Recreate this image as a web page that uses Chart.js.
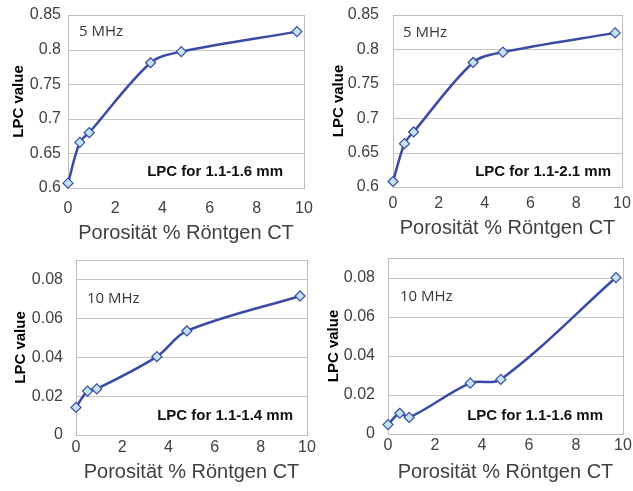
<!DOCTYPE html>
<html>
<head>
<meta charset="utf-8">
<script src="https://cdn.jsdelivr.net/npm/chart.js@4.4.1/dist/chart.umd.min.js"></script>
<style>
  html, body { margin: 0; padding: 0; background: #fff; }
  #wrap { position: relative; width: 633px; height: 491px; overflow: hidden; }
  .panel { position: absolute; }
</style>
</head>
<body>
<div id="wrap">
  <div class="panel" style="left:0;top:0;width:316px;height:245px"><canvas id="c1"></canvas></div>
  <div class="panel" style="left:316px;top:0;width:317px;height:245px"><canvas id="c2"></canvas></div>
  <div class="panel" style="left:0;top:245px;width:316px;height:246px"><canvas id="c3"></canvas></div>
  <div class="panel" style="left:316px;top:245px;width:317px;height:246px"><canvas id="c4"></canvas></div>
</div>
<script>
// porosity from X-ray CT (%)
const porosity = [0, 0.5, 0.9, 3.5, 4.8, 9.7];

// LPC values per frequency / depth range
const lpc5MHz_11_16 = [0.607, 0.666, 0.680, 0.781, 0.797, 0.826];
const lpc5MHz_11_21 = [0.608, 0.663, 0.680, 0.781, 0.796, 0.824];
const lpc10MHz_11_14 = [0.0142, 0.0226, 0.0237, 0.0403, 0.0535, 0.0715];
const lpc10MHz_11_16 = [0.0048, 0.0106, 0.0085, 0.0260, 0.0279, 0.0800];

const xTicks = [0, 2, 4, 6, 8, 10];
const yTicks5 = [0.6, 0.65, 0.7, 0.75, 0.8, 0.85];
const yTicks10 = [0, 0.02, 0.04, 0.06, 0.08];

const LINE = "#3a4aa6";
const MARKER = "#c2e4f0";
const TEXT = "#404040";
const GRID = "#c4c4c4";

// horizontal grid, frame around the plot area, and the two text boxes
const panelDecor = {
  id: "panelDecor",
  beforeDatasetsDraw(chart) {
    const { ctx, chartArea: a, scales } = chart;
    ctx.save();
    ctx.strokeStyle = GRID;
    ctx.lineWidth = 1;
    ctx.beginPath();
    scales.y.ticks.forEach((t) => {
      const y = Math.round(scales.y.getPixelForValue(t.value)) + 0.5;
      ctx.moveTo(a.left, y);
      ctx.lineTo(a.right, y);
    });
    ctx.stroke();
    ctx.strokeStyle = "#bdbdbd";
    ctx.strokeRect(Math.round(a.left) + 0.5, Math.round(a.top) + 0.5,
      Math.round(a.right - a.left), Math.round(a.bottom - a.top));
    ctx.restore();
  },
  afterDraw(chart, args, opts) {
    const { ctx, chartArea: a } = chart;
    ctx.save();
    ctx.textBaseline = "middle";
    ctx.fillStyle = "#3b3631";
    ctx.font = "15px 'Open Sans'";
    ctx.textAlign = "left";
    ctx.fillText(opts.freq, a.left + opts.freqDx, a.top + opts.freqDy);

    ctx.fillStyle = "#111";
    ctx.font = "bold 15px 'Liberation Sans'";
    ctx.textAlign = "right";
    ctx.fillText(opts.range, a.right - opts.rangeDx, a.bottom - opts.rangeDy);
    ctx.restore();
  }
};

function makePanel(id, values, yTicks, yMax, box) {
  const ctx = document.getElementById(id).getContext("2d");
  return new Chart(ctx, {
    type: "line",
    data: {
      datasets: [{
        data: porosity.map((x, i) => ({ x: x, y: values[i] })),
        borderColor: LINE,
        borderWidth: 2.5,
        tension: 0.33,
        pointStyle: "rectRot",
        pointRadius: 5,
        pointBackgroundColor: MARKER,
        pointBorderColor: LINE,
        pointBorderWidth: 1.2,
        clip: false
      }]
    },
    options: {
      responsive: true,
      maintainAspectRatio: false,
      animation: false,
      events: [],
      layout: { padding: { top: box.top, right: box.right, left: 0, bottom: 0 } },
      plugins: {
        legend: { display: false },
        tooltip: { enabled: false },
        panelDecor: box.text
      },
      scales: {
        x: {
          type: "linear",
          min: xTicks[0],
          max: xTicks[xTicks.length - 1],
          afterFit: (s) => {
            s.height = box.xHeight;
            s.paddingLeft = 0;
            s.paddingRight = 0;
          },
          afterBuildTicks: (s) => { s.ticks = xTicks.map((v) => ({ value: v })); },
          grid: { display: false, drawTicks: false },
          border: { display: false },
          ticks: {
            color: TEXT,
            padding: box.xTickPad,
            font: { family: "'Liberation Sans'", size: 16 }
          },
          title: {
            display: true,
            text: "Porosität % Röntgen CT",
            color: TEXT,
            padding: { top: 0, bottom: box.xTitlePad },
            font: { family: "'Liberation Sans'", size: 20 }
          }
        },
        y: {
          min: yTicks[0],
          max: yMax,
          afterFit: (s) => {
            s.width = box.yWidth;
            s.paddingTop = 0;
            s.paddingBottom = 0;
          },
          afterBuildTicks: (s) => { s.ticks = yTicks.map((v) => ({ value: v })); },
          grid: { display: false, drawTicks: false },
          border: { display: false },
          ticks: {
            color: TEXT,
            padding: box.yTickPad,
            font: { family: "'Liberation Sans'", size: 16 },
            callback: (v) => String(v)
          },
          title: {
            display: true,
            text: "LPC value",
            color: "#000",
            padding: { top: box.yTitlePad, bottom: 0 },
            font: { family: "'Liberation Sans'", size: 15, weight: "bold" }
          }
        }
      }
    },
    plugins: [panelDecor]
  });
}

makePanel("c1", lpc5MHz_11_16, yTicks5, 0.85, {
  top: 15, right: 12, yWidth: 68, xHeight: 57,
  xTickPad: 10.6, yTickPad: 7, xTitlePad: 0, yTitlePad: 10,
  text: { freq: "5 MHz", range: "LPC for 1.1-1.6 mm", freqDx: 11, freqDy: 17, rangeDx: 21, rangeDy: 16 }
});
makePanel("c2", lpc5MHz_11_21, yTicks5, 0.85, {
  top: 15, right: 11, yWidth: 77, xHeight: 58,
  xTickPad: 6.6, yTickPad: 14, xTitlePad: 5, yTitlePad: 14,
  text: { freq: "5 MHz", range: "LPC for 1.1-2.1 mm", freqDx: 10, freqDy: 18, rangeDx: 11, rangeDy: 15 }
});
makePanel("c3", lpc10MHz_11_14, yTicks10, 0.09, {
  top: 15, right: 9, yWidth: 76, xHeight: 56,
  xTickPad: 2.6, yTickPad: 13, xTitlePad: 7, yTitlePad: 12,
  text: { freq: "10 MHz", range: "LPC for 1.1-1.4 mm", freqDx: 11, freqDy: 39, rangeDx: 14, rangeDy: 19 }
});
makePanel("c4", lpc10MHz_11_16, yTicks10, 0.09, {
  top: 13, right: 10, yWidth: 72, xHeight: 57,
  xTickPad: 1.6, yTickPad: 13, xTitlePad: 7, yTitlePad: 9,
  text: { freq: "10 MHz", range: "LPC for 1.1-1.6 mm", freqDx: 12, freqDy: 39, rangeDx: 20, rangeDy: 18 }
});
</script>
</body>
</html>
